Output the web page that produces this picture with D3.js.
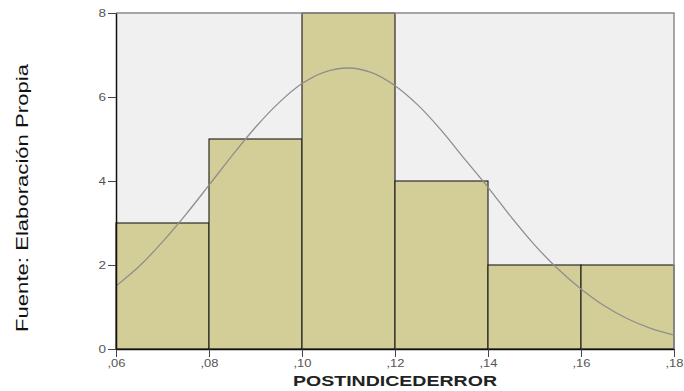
<!DOCTYPE html>
<html><head><meta charset="utf-8">
<script src="https://cdn.jsdelivr.net/npm/d3@7"></script>
<style>body{margin:0;background:#fff}svg{display:block}</style>
</head><body>
<svg id="c" width="684" height="391"></svg>
<script>
const binStarts = [0.06, 0.08, 0.10, 0.12, 0.14, 0.16];
const binWidth = 0.02;
const counts = [3, 5, 8, 4, 2, 2];
const xTicks = [0.06, 0.08, 0.10, 0.12, 0.14, 0.16, 0.18];
const xTickLabels = [",06", ",08", ",10", ",12", ",14", ",16", ",18"];
const yTicks = [0, 2, 4, 6, 8];
const curveX = [0.060,0.065,0.070,0.075,0.080,0.085,0.090,0.095,0.100,0.105,0.110,0.115,0.120,0.125,0.130,0.135,0.140,0.145,0.150,0.155,0.160,0.165,0.170,0.175,0.180];
const curveY = [1.50,1.97,2.55,3.20,3.90,4.61,5.28,5.86,6.32,6.60,6.69,6.58,6.27,5.80,5.20,4.52,3.85,3.14,2.48,1.91,1.43,1.03,0.72,0.49,0.33];
const xTitle = "POSTINDICEDERROR";
const sourceText = "Fuente: Elaboración Propia";

const FONT = "Liberation Sans, Arial, sans-serif";
const svg = d3.select("#c");
const L = 116, R = 674, T = 13, B = 349;
const x = d3.scaleLinear().domain([0.06, 0.18]).range([L, R]);
const y = d3.scaleLinear().domain([0, 8]).range([B, T]);

svg.append("rect").attr("x", L).attr("y", T).attr("width", R - L).attr("height", B - T)
  .attr("fill", "#f0f0f0");

svg.append("g").selectAll("rect").data(counts).join("rect")
  .attr("x", (d, i) => x(binStarts[i]))
  .attr("y", d => y(d))
  .attr("width", (d, i) => x(binStarts[i] + binWidth) - x(binStarts[i]))
  .attr("height", d => y(0) - y(d))
  .attr("fill", "#d3ce98").attr("stroke", "#1a1a1a").attr("stroke-width", 1.1);

// frame top/right
svg.append("path").attr("d", `M${L},${T}H${R}V${B}`).attr("fill", "none")
  .attr("stroke", "#8a8a8a").attr("stroke-width", 1.5);

const line = d3.line().x((d, i) => x(curveX[i])).y(d => y(d)).curve(d3.curveCatmullRom);
svg.append("path").datum(curveY).attr("d", line).attr("fill", "none")
  .attr("stroke", "#8e8e8e").attr("stroke-width", 1.3);

const xAxis = d3.axisBottom(x).tickValues(xTicks).tickSize(8).tickSizeOuter(0)
  .tickFormat((d, i) => xTickLabels[i]);
const gx = svg.append("g").attr("transform", `translate(0,${B})`).call(xAxis);
gx.select(".domain").attr("stroke", "#111").attr("stroke-width", 1.5);
gx.selectAll(".tick line").attr("stroke", "#444");
gx.selectAll("text").attr("font-family", FONT)
  .attr("font-size", 10).attr("fill", "#555").attr("y", 18).attr("dy", 0)
  .attr("textLength", 18).attr("lengthAdjust", "spacingAndGlyphs");

const yAxis = d3.axisLeft(y).tickValues(yTicks).tickSize(8).tickSizeOuter(0);
const gy = svg.append("g").attr("transform", `translate(${L},0)`).call(yAxis);
gy.select(".domain").attr("stroke", "#111").attr("stroke-width", 1.5);
gy.selectAll(".tick line").attr("stroke", "#444");
gy.selectAll("text").attr("font-family", FONT)
  .attr("font-size", 10).attr("fill", "#555").attr("x", -10)
  .attr("textLength", 7.5).attr("lengthAdjust", "spacingAndGlyphs");

svg.append("text").attr("x", (L + R) / 2).attr("y", 386).attr("text-anchor", "middle")
  .attr("font-family", FONT).attr("font-weight", "bold")
  .attr("font-size", 15).attr("fill", "#222")
  .attr("textLength", 204).attr("lengthAdjust", "spacingAndGlyphs").text(xTitle);

svg.append("text").attr("transform", "translate(27.5,198) rotate(-90)").attr("text-anchor", "middle")
  .attr("font-family", FONT)
  .attr("font-size", 17).attr("fill", "#111")
  .attr("textLength", 268).attr("lengthAdjust", "spacingAndGlyphs").text(sourceText);
</script>
</body></html>
